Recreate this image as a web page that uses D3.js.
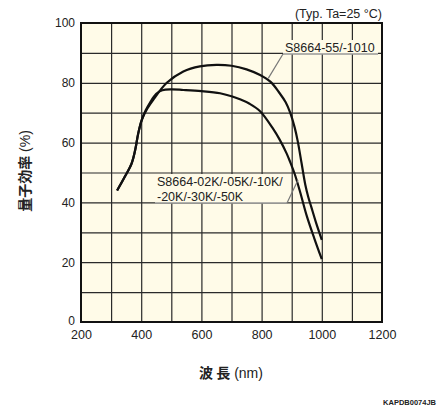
<!DOCTYPE html>
<html>
<head>
<meta charset="utf-8">
<script src="https://cdn.jsdelivr.net/npm/d3@7"></script>
<style>
  body { margin: 0; background: #fff; }
  text { font-family: "Liberation Sans", Arial, sans-serif; fill: #222; }
  .cjk { font-family: "Noto Sans CJK JP", sans-serif; font-weight: bold; }
</style>
</head>
<body>
<script>
// S8664-55/-1010
const wlHigh = [320, 345, 368, 380, 390, 402, 420, 440, 485, 540, 595, 650, 700, 750, 795, 830, 860, 880, 895, 910, 920, 933, 945, 955, 965, 980, 1000];
const qeHigh = [44, 48.5, 53, 57.5, 63, 67.6, 71.3, 74.3, 80, 83.8, 85.5, 86, 85.7, 84.5, 82.6, 80.3, 76.5, 73.5, 70, 65, 60.5, 53, 46, 41.8, 38.5, 33.5, 27.5];
// S8664-02K/-05K/-10K/-20K/-30K/-50K
const wlLow = [320, 345, 368, 380, 390, 402, 415, 430, 450, 470, 500, 540, 600, 662, 700, 728, 760, 795, 839, 860, 883, 895, 910, 928, 950, 975, 1000];
const qeLow = [44, 48.5, 53, 57.5, 63, 67.6, 70.8, 73.5, 76.3, 77.5, 77.8, 77.6, 77.2, 76.5, 75.5, 74.5, 73, 70.5, 64.5, 61, 56.4, 53.5, 49.5, 43.5, 35.5, 28, 21];

const xTicks = [200, 400, 600, 800, 1000, 1200];
const yTicks = [0, 20, 40, 60, 80, 100];

const W = 437, H = 411;
const m = { left: 81, right: 55, top: 23, bottom: 89 };

const svg = d3.select("body").append("svg").attr("width", W).attr("height", H);

const x = d3.scaleLinear().domain([200, 1200]).range([m.left, W - m.right]);
const y = d3.scaleLinear().domain([0, 100]).range([H - m.bottom, m.top]);

svg.append("rect")
  .attr("x", x(200)).attr("y", y(100))
  .attr("width", x(1200) - x(200)).attr("height", y(0) - y(100))
  .attr("fill", "#fffbe8");

// grid
svg.append("g")
  .attr("transform", `translate(0,${y(0)})`)
  .call(d3.axisBottom(x).tickValues(d3.range(300, 1200, 100)).tickSize(-(y(0) - y(100))).tickFormat(""))
  .call(g => g.select(".domain").remove())
  .call(g => g.selectAll("line").attr("stroke", "#2a2a2a").attr("stroke-width", 1.2));

svg.append("g")
  .attr("transform", `translate(${x(200)},0)`)
  .call(d3.axisLeft(y).tickValues(d3.range(10, 100, 10)).tickSize(-(x(1200) - x(200))).tickFormat(""))
  .call(g => g.select(".domain").remove())
  .call(g => g.selectAll("line").attr("stroke", "#2a2a2a").attr("stroke-width", 1.2));

// tick labels
const xAx = svg.append("g")
  .attr("transform", `translate(0,${y(0)})`)
  .call(d3.axisBottom(x).tickValues(xTicks).tickSize(0).tickPadding(8).tickFormat(d3.format("d")));
xAx.select(".domain").remove();
xAx.selectAll("text").style("font-size", "12.5px").attr("fill", "#222")
  .style("font-family", "Liberation Sans, Arial, sans-serif");

const yAx = svg.append("g")
  .attr("transform", `translate(${x(200) - 6},0)`)
  .call(d3.axisLeft(y).tickValues(yTicks).tickSize(0).tickPadding(0));
yAx.select(".domain").remove();
yAx.selectAll("text").style("font-size", "12px").attr("fill", "#222")
  .style("font-family", "Liberation Sans, Arial, sans-serif")
  .attr("dy", d => d === 0 ? "0.2em" : "0.32em");

// frame
svg.append("rect")
  .attr("x", x(200)).attr("y", y(100))
  .attr("width", x(1200) - x(200)).attr("height", y(0) - y(100))
  .attr("fill", "none").attr("stroke", "#111").attr("stroke-width", 2);

// curves
const line = d3.line().x(d => x(d[0])).y(d => y(d[1])).curve(d3.curveCatmullRom.alpha(0.5));
svg.append("path").datum(d3.zip(wlHigh, qeHigh))
  .attr("d", line).attr("fill", "none").attr("stroke", "#111").attr("stroke-width", 2.2);
svg.append("path").datum(d3.zip(wlLow, qeLow))
  .attr("d", line).attr("fill", "none").attr("stroke", "#111").attr("stroke-width", 2.2);

// callouts
function callout(x0, x1, yTop, yBot, lx, ly, lines) {
  const g = svg.append("g");
  g.append("rect").attr("x", x0).attr("y", yTop).attr("width", x1 - x0).attr("height", yBot - yTop)
    .attr("fill", "#fffbe8");
  g.append("line").attr("x1", x0).attr("x2", x1).attr("y1", yBot).attr("y2", yBot)
    .attr("stroke", "#999").attr("stroke-width", 1.5);
  g.append("line").attr("x1", lines.side === "left" ? x0 : x1).attr("y1", yBot).attr("x2", lx).attr("y2", ly)
    .attr("stroke", "#777").attr("stroke-width", 1.2);
  lines.text.forEach((t, i) => {
    g.append("text").attr("x", x0 + 2).attr("y", yTop + 12 + i * 15)
      .style("font-size", "12.5px").text(t);
  });
}
callout(283, 378, 40, 54, x(822), y(81.5), { side: "left", text: ["S8664-55/-1010"] });
callout(155, 287, 174, 203, x(921), y(47.5), { side: "right", text: ["S8664-02K/-05K/-10K/", "-20K/-30K/-50K"] });

// titles
svg.append("text").attr("x", x(1200)).attr("y", 18).attr("text-anchor", "end")
  .style("font-size", "12.5px").text("(Typ. Ta=25 °C)");

const xt = svg.append("text").attr("x", 231).attr("y", 378).attr("text-anchor", "middle").style("font-size", "14px");
xt.append("tspan").attr("class", "cjk").text("波 長");
xt.append("tspan").text(" (nm)");

const yt = svg.append("text").attr("transform", "translate(30,171) rotate(-90)").attr("text-anchor", "middle").style("font-size", "14px");
yt.append("tspan").attr("class", "cjk").text("量子効率");
yt.append("tspan").text(" (%)");

svg.append("text").attr("x", 436).attr("y", 405).attr("text-anchor", "end")
  .style("font-size", "7.5px").style("font-weight", "bold").attr("fill", "#444").text("KAPDB0074JB");
</script>
</body>
</html>
